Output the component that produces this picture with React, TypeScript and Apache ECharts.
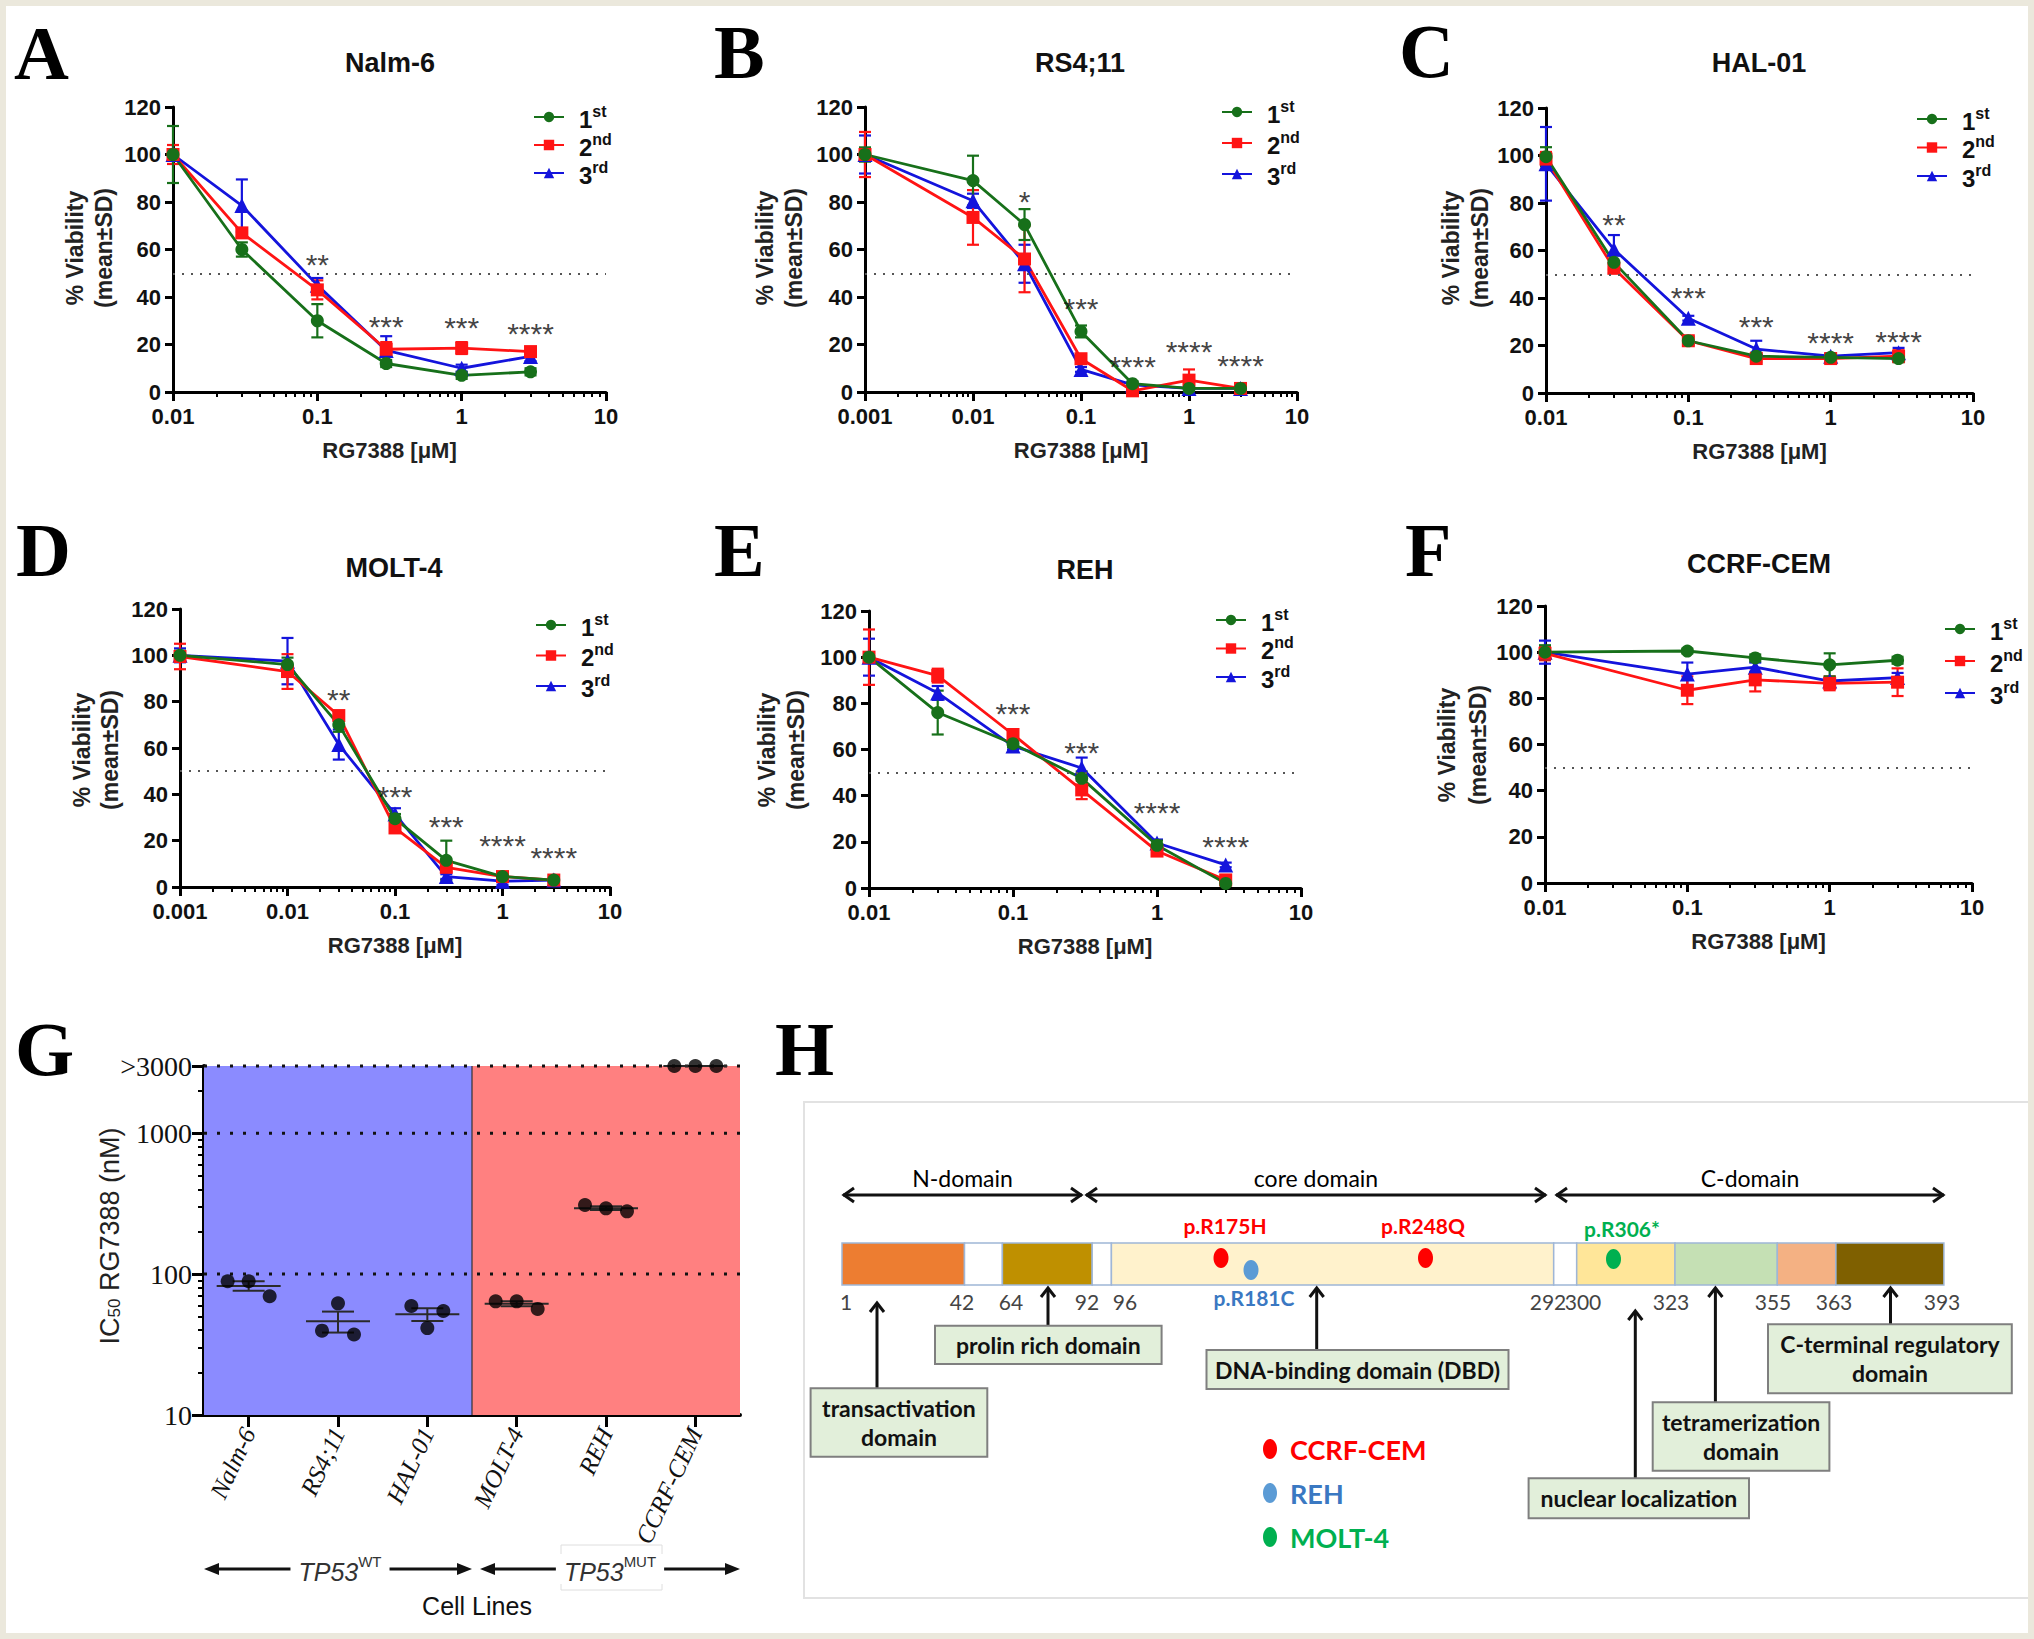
import React, { useEffect, useRef } from 'react';
import * as echarts from 'echarts';

const FONT = '"Liberation Sans", Arial, Helvetica, sans-serif';
const SERIF = '"Liberation Serif", "Times New Roman", Times, serif';
const HFONT = 'Lato, "Open Sans", "Noto Sans", sans-serif';

// ---------- Panels A–F : viability (% of control, mean ± SD) ----------
const runNames = ['1st', '2nd', '3rd'];
const runColors = ['#17701a', '#ff1414', '#1414dc'];
const runSymbols = ['circle', 'rect', 'triangle'];
const xTitle = 'RG7388 [μM]';

// A  Nalm-6
const concNalm = [0.01, 0.03, 0.1, 0.3, 1, 3];
const nalm1 = [100, 60, 30, 12, 7, 8.5];
const nalm1SD = [12, 3, 7, 1.5, 1.5, 1.5];
const nalm2 = [100, 67, 43, 18, 18.5, 17];
const nalm2SD = [4, 2, 4, 3, 2.5, 2];
const nalm3 = [100, 78.5, 45, 17.5, 10, 15];
const nalm3SD = [2, 11, 3, 6, 1.5, 2];
const nalmSig = ['', '', '**', '***', '***', '****'];
const nalmSigY = [0, 0, 57, 31, 30.5, 28];

// B  RS4;11
const concRs = [0.001, 0.01, 0.03, 0.1, 0.3, 1, 3];
const rs1 = [100, 89, 70.5, 25.5, 3.5, 1.5, 1.5];
const rs1SD = [3, 10.5, 6.5, 2.5, 1, 1, 0.5];
const rs2 = [100, 73.5, 56, 14, 0.5, 5, 1.5];
const rs2SD = [9.5, 11.5, 14, 2, 1, 4.5, 1];
const rs3 = [100, 80.5, 54, 9.5, 3, 1.5, 1.5];
const rs3SD = [8, 3, 8, 1, 1, 1, 0.5];
const rsSig = ['', '', '*', '***', '****', '****', '****'];
const rsSigY = [0, 0, 83.5, 38.5, 14, 20.5, 14.5];

// C  HAL-01
const concHal = [0.01, 0.03, 0.1, 0.3, 1, 3];
const hal1 = [99.5, 55, 22, 15.5, 15, 14.5];
const hal1SD = [4, 3, 1.5, 1.5, 1.5, 1.5];
const hal2 = [98.5, 52.5, 22, 14.5, 14.5, 15.5];
const hal2SD = [3, 2, 1.5, 1.5, 1.5, 2.5];
const hal3 = [96.5, 60.5, 31.5, 18.5, 15.5, 17];
const hal3SD = [15.5, 6, 1, 3.5, 1, 2];
const halSig = ['', '**', '***', '***', '****', '****'];
const halSigY = [0, 74.5, 43.5, 31.5, 24.5, 25];

// D  MOLT-4
const concMolt = [0.001, 0.01, 0.03, 0.1, 0.3, 1, 3];
const molt1 = [100, 96, 70, 29.5, 11.5, 4.5, 3];
const molt1SD = [2, 3, 3, 2, 8.5, 1, 0.5];
const molt2 = [99.5, 93, 74, 25.5, 8.5, 4.5, 3];
const molt2SD = [5.5, 7.5, 2, 2, 2, 1, 1];
const molt3 = [100, 97.5, 61.5, 31.5, 4.5, 2.5, 3];
const molt3SD = [3, 10, 6.5, 2.5, 1, 1.5, 0.5];
const moltSig = ['', '', '**', '***', '***', '****', '****'];
const moltSigY = [0, 0, 84.5, 42.5, 29.5, 21.5, 16];

// E  REH
const concReh = [0.01, 0.03, 0.1, 0.3, 1, 3];
const reh1 = [100, 76, 62.5, 47.5, 18.5, 2];
const reh1SD = [2, 9.5, 1.5, 3, 2, 1];
const reh2 = [100, 92, 66.5, 42.5, 16, 3.5];
const reh2SD = [12, 3, 2, 4, 1.5, 1];
const reh3 = [100, 84.5, 61.5, 52, 19.5, 10];
const reh3SD = [8, 3, 1.5, 4.5, 1.5, 1];
const rehSig = ['', '', '***', '***', '****', '****'];
const rehSigY = [0, 0, 79, 62, 36, 21.5];

// F  CCRF-CEM
const concCem = [0.01, 0.1, 0.3, 1, 3];
const cem1 = [100, 100.5, 97.5, 94.5, 96.5];
const cem1SD = [3, 1, 1.5, 5, 1.5];
const cem2 = [99.5, 83.5, 88, 86.5, 87];
const cem2SD = [3, 6, 5, 3, 6];
const cem3 = [100, 90.5, 93.5, 87.5, 89];
const cem3SD = [5, 5, 2, 1.5, 2];
const cemSig = ['', '', '', '', ''];
const cemSigY = [0, 0, 0, 0, 0];

// ---------- Panel G : IC50 (nM) ----------
const gCats = ['Nalm-6', 'RS4;11', 'HAL-01', 'MOLT-4', 'REH', 'CCRF-CEM'];
const gIC50 = [
  [88.9, 88.9, 69.7],
  [39.7, 62, 37.3],
  [59.4, 41.4, 54.7],
  [64.1, 64.1, 56.6],
  [309.7, 293, 279],
  [3000, 3000, 3000],
];
const gMajor = [10, 100, 1000, 3000];
const gGuides = [100, 1000, 3000];
const gGroups = [
  { label: 'TP53', sup: 'WT', from: 0, to: 2, color: '#8b8bff' },
  { label: 'TP53', sup: 'MUT', from: 3, to: 5, color: '#ff8080' },
];

// ---------- Panel H : TP53 protein scheme ----------
const hDomains = ['N-domain', 'core domain', 'C-domain'];
const hResidues = ['1', '42', '64', '92', '96', '292', '300', '323', '355', '363', '393'];
const hSegColors = ['#ed7d31', '#ffffff', '#bf9000', '#ffffff', '#fff2cc', '#ffffff', '#ffe699', '#c5e0b4', '#f4b183', '#7f6000'];
const hMutLabels = ['p.R175H', 'p.R181C', 'p.R248Q', 'p.R306*'];
const hMutLines = ['CCRF-CEM', 'REH', 'CCRF-CEM', 'MOLT-4'];
const hCellLines = ['CCRF-CEM', 'REH', 'MOLT-4'];
const hCellDot = ['#ff0000', '#5b9bd5', '#00b050'];
const hCellText = ['#ff0000', '#3a78c2', '#00b050'];
const hFeatures = ['transactivation\ndomain', 'prolin rich domain', 'DNA-binding domain (DBD)', 'nuclear localization', 'tetramerization\ndomain', 'C-terminal regulatory\ndomain'];

// ---------- layout ----------
const panels = [
  { title: 'Nalm-6', letter: 'A', conc: concNalm, runs: [[nalm1, nalm1SD], [nalm2, nalm2SD], [nalm3, nalm3SD]], sig: nalmSig, sigY: nalmSigY,
    minExp: -2, grid: [173, 107, 433, 285], letterXY: [14, 53], titleXY: [390, 63], legendXY: [528, 98], legendGap: 0, ylab: [75, 104, 248] },
  { title: 'RS4;11', letter: 'B', conc: concRs, runs: [[rs1, rs1SD], [rs2, rs2SD], [rs3, rs3SD]], sig: rsSig, sigY: rsSigY,
    minExp: -3, grid: [865, 107, 432, 285], letterXY: [714, 52], titleXY: [1080, 63], legendXY: [1216, 93], legendGap: 3, ylab: [765, 794, 248] },
  { title: 'HAL-01', letter: 'C', conc: concHal, runs: [[hal1, hal1SD], [hal2, hal2SD], [hal3, hal3SD]], sig: halSig, sigY: halSigY,
    minExp: -2, grid: [1546, 108, 427, 285], letterXY: [1399, 51], titleXY: [1759, 63], legendXY: [1911, 100], legendGap: 0.5, ylab: [1451, 1480, 248] },
  { title: 'MOLT-4', letter: 'D', conc: concMolt, runs: [[molt1, molt1SD], [molt2, molt2SD], [molt3, molt3SD]], sig: moltSig, sigY: moltSigY,
    minExp: -3, grid: [180, 609, 430, 278], letterXY: [16, 550], titleXY: [394, 568], legendXY: [530, 606], legendGap: 2.5, ylab: [82, 110, 750] },
  { title: 'REH', letter: 'E', conc: concReh, runs: [[reh1, reh1SD], [reh2, reh2SD], [reh3, reh3SD]], sig: rehSig, sigY: rehSigY,
    minExp: -2, grid: [869, 611, 432, 277], letterXY: [714, 550], titleXY: [1085, 570], legendXY: [1210, 601], legendGap: 0.5, ylab: [767, 796, 750] },
  { title: 'CCRF-CEM', letter: 'F', conc: concCem, runs: [[cem1, cem1SD], [cem2, cem2SD], [cem3, cem3SD]], sig: cemSig, sigY: cemSigY,
    minExp: -2, grid: [1545, 606, 427, 277], letterXY: [1405, 550], titleXY: [1759, 564], legendXY: [1939, 610], legendGap: 4, ylab: [1447, 1478, 745] },
];

const G_GRID = [204, 1066, 536, 349];
const G_JITTER = [[-21, 0, 21], [-16, 0, 16], [-16, 0, 16], [-21, 0, 21], [-21, 0, 21], [-21, 0, 21]];
const G_ARROWS = [[204, 472], [480, 740]];
const G_ARROW_Y = 1569;
const G_GROUP_LABEL_X = [340, 610];

const H_BAR_Y = 1243;
const H_BAR_H = 42;
const H_SEG_X = [842, 964.5, 1002.4, 1092.2, 1111.4, 1553.7, 1576.7, 1675, 1777.3, 1835.9, 1943.9];
const H_RES_X = [846, 962, 1011, 1087, 1125, 1548, 1583, 1671, 1773, 1834, 1942];
const H_DOM_X = [[843, 1082], [1086, 1546], [1556, 1944]];
const H_MUT = [
  { ex: 1221, ey: 1258, lx: 1225, ly: 1225 },
  { ex: 1251, ey: 1270, lx: 1254, ly: 1297 },
  { ex: 1425.5, ey: 1258, lx: 1423, ly: 1225 },
  { ex: 1613.5, ey: 1259, lx: 1622, ly: 1228 },
];
const H_BOX = [
  [810.6, 1388.3, 176.7, 68.4, 877, 1302],
  [935, 1325.7, 226.6, 38.3, 1048, 1287],
  [1206.5, 1350, 302, 39, 1316.7, 1287],
  [1528.6, 1478.3, 220.4, 40, 1635.3, 1310],
  [1652.7, 1402.3, 176.7, 68.4, 1715.4, 1287],
  [1768, 1324.3, 243.8, 69, 1890.5, 1287],
];

// ---------- helpers ----------
const fmtConc = (v: number) => String(Number(v.toPrecision(3)));
const minorTicks = (minExp: number, maxExp: number, cap = Infinity) => {
  const out: number[] = [];
  for (let e = minExp; e < maxExp; e++) for (let k = 2; k <= 9; k++) {
    const v = Math.log10(k) + e;
    if (v <= cap + 1e-9) out.push(v);
  }
  return out;
};

const txt = (text: string, x: number, y: number, o: any = {}) => ({
  type: 'text', x, y, rotation: o.rotation || 0, z: o.z || 50,
  style: {
    text, fill: o.color || '#111', fontSize: o.size || 20, fontWeight: o.weight || 'normal',
    fontFamily: o.family || FONT, fontStyle: o.fstyle || 'normal',
    textAlign: o.align || 'center', align: o.align || 'center',
    textVerticalAlign: 'middle', verticalAlign: 'middle',
    lineHeight: o.lineHeight, rich: o.rich, backgroundColor: o.bg, padding: o.padding,
  },
});
const ln = (x1: number, y1: number, x2: number, y2: number, stroke = '#111', lineWidth = 3) => ({
  type: 'line', z: 40, shape: { x1, y1, x2, y2 }, style: { stroke, lineWidth },
});
const chevron = (pts: number[][]) => ({ type: 'polyline', z: 40, shape: { points: pts }, style: { stroke: '#111', lineWidth: 3, fill: 'none' } });

const errorBar = (color: string) => (params: any, api: any) => {
  const x = api.value(0);
  const top = api.coord([x, api.value(2)]);
  const bot = api.coord([x, api.value(1)]);
  const st = { stroke: color, lineWidth: 2.2 };
  return {
    type: 'group', children: [
      { type: 'line', shape: { x1: top[0], y1: top[1], x2: bot[0], y2: bot[1] }, style: st },
      { type: 'line', shape: { x1: top[0] - 6, y1: top[1], x2: top[0] + 6, y2: top[1] }, style: st },
      { type: 'line', shape: { x1: bot[0] - 6, y1: bot[1], x2: bot[0] + 6, y2: bot[1] }, style: st },
    ],
  };
};

function buildOption(): any {
  const grid: any[] = [];
  const xAxis: any[] = [];
  const yAxis: any[] = [];
  const series: any[] = [];
  const legend: any[] = [];
  const graphic: any[] = [];
  const tickLabel = { fontFamily: FONT, fontSize: 22, fontWeight: 'bold', color: '#111' };

  panels.forEach((p, gi) => {
    grid.push({ left: p.grid[0], top: p.grid[1], width: p.grid[2], height: p.grid[3] });
    const xi = xAxis.length;
    xAxis.push({
      type: 'value', gridIndex: gi, min: p.minExp, max: 1, interval: 1, position: 'bottom',
      axisLine: { show: true, onZero: false, lineStyle: { color: '#000', width: 3 } },
      axisTick: { show: true, length: 9, lineStyle: { color: '#000', width: 3 } },
      axisLabel: { ...tickLabel, margin: 13, formatter: (v: number) => fmtConc(Math.pow(10, v)) },
      splitLine: { show: false },
      name: xTitle, nameLocation: 'middle', nameGap: 47,
      nameTextStyle: { fontFamily: FONT, fontSize: 22, fontWeight: 'bold', color: '#222' },
    });
    xAxis.push({
      type: 'value', gridIndex: gi, min: p.minExp, max: 1, position: 'bottom',
      axisLine: { show: false }, axisLabel: { show: false }, splitLine: { show: false },
      axisTick: { show: true, length: 5, customValues: minorTicks(p.minExp, 1), lineStyle: { color: '#000', width: 2 } },
    });
    yAxis.push({
      type: 'value', gridIndex: gi, min: 0, max: 120, interval: 20, position: 'left',
      axisLine: { show: true, onZero: false, lineStyle: { color: '#000', width: 3 } },
      axisTick: { show: true, length: 8, lineStyle: { color: '#000', width: 3 } },
      axisLabel: { ...tickLabel, margin: 12 },
      splitLine: { show: false },
    });
    const order = [2, 1, 0];
    order.forEach((ri) => {
      const [vals, sds] = p.runs[ri];
      series.push({
        type: 'custom', name: `${p.title} ${runNames[ri]} SD`, xAxisIndex: xi, yAxisIndex: gi, z: 2, silent: true,
        renderItem: errorBar(runColors[ri]), encode: { x: 0, y: [1, 2] },
        data: p.conc.map((c, j) => [Math.log10(c), vals[j] - sds[j], vals[j] + sds[j]]),
      });
    });
    order.forEach((ri) => {
      const [vals] = p.runs[ri];
      const s: any = {
        type: 'line', name: runNames[ri], xAxisIndex: xi, yAxisIndex: gi, z: 3, silent: true,
        symbol: runSymbols[ri], symbolSize: ri === 2 ? 15 : 13, showSymbol: true,
        lineStyle: { color: runColors[ri], width: 2.8 }, itemStyle: { color: runColors[ri] },
        data: p.conc.map((c, j) => [Math.log10(c), vals[j]]),
      };
      if (ri === 2) {
        s.markLine = {
          silent: true, symbol: ['none', 'none'], label: { show: false },
          lineStyle: { type: [2, 7], color: '#555', width: 2 },
          data: [{ yAxis: 50 }],
        };
      }
      series.push(s);
    });
    const sigData = p.conc.map((c, j) => ({ name: p.sig[j], value: [Math.log10(c), p.sigY[j]] })).filter((d) => d.name);
    if (sigData.length) {
      series.push({
        type: 'scatter', xAxisIndex: xi, yAxisIndex: gi, z: 4, silent: true, symbol: 'circle', symbolSize: 1,
        itemStyle: { color: 'rgba(0,0,0,0)' },
        label: { show: true, position: 'inside', formatter: '{b}', fontFamily: FONT, fontSize: 30, color: '#111', offset: [0, 8] },
        data: sigData,
      });
    }
    legend.push({
      left: p.legendXY[0], top: p.legendXY[1], orient: 'vertical', data: runNames, selectedMode: false,
      itemWidth: 30, itemHeight: 13, itemGap: p.legendGap,
      formatter: (n: string) => `{n|${n.charAt(0)}}{s|${n.slice(1)}}`,
      textStyle: {
        padding: [0, 0, 0, 10],
        rich: {
          n: { fontFamily: FONT, fontSize: 24, fontWeight: 'bold', color: '#111', lineHeight: 28, verticalAlign: 'bottom' },
          s: { fontFamily: FONT, fontSize: 16, fontWeight: 'bold', color: '#111', lineHeight: 16, verticalAlign: 'top' },
        },
      },
    });
    graphic.push(txt(p.letter, p.letterXY[0], p.letterXY[1], { size: 76, weight: 'bold', family: SERIF, align: 'left', color: '#000' }));
    graphic.push(txt(p.title, p.titleXY[0], p.titleXY[1], { size: 27, weight: 'bold', color: '#111' }));
    graphic.push(txt('% Viability', p.ylab[0], p.ylab[2], { size: 23, weight: 'bold', rotation: Math.PI / 2, color: '#222' }));
    graphic.push(txt('(mean±SD)', p.ylab[1], p.ylab[2], { size: 23, weight: 'bold', rotation: Math.PI / 2, color: '#222' }));
  });

  // ---------- Panel G ----------
  const gGrid = grid.length;
  grid.push({ left: G_GRID[0], top: G_GRID[1], width: G_GRID[2], height: G_GRID[3] });
  const gTopLog = Math.log10(gMajor[gMajor.length - 1]);
  const gx = xAxis.length;
  const catIdx = gCats.map((_, i) => i);
  xAxis.push({
    type: 'value', gridIndex: gGrid, min: -0.5, max: gCats.length - 0.5, position: 'bottom',
    axisLine: { show: true, onZero: false, lineStyle: { color: '#000', width: 4 } },
    axisTick: { show: true, customValues: catIdx, length: 12, lineStyle: { color: '#000', width: 3 } },
    axisLabel: {
      customValues: catIdx, formatter: (v: number) => gCats[Math.round(v)] ?? '', rotate: 65, margin: 14,
      fontFamily: SERIF, fontStyle: 'italic', fontSize: 25, color: '#111',
    },
    splitLine: { show: false },
  });
  const gy = yAxis.length;
  const majorLog = gMajor.map((v) => Math.log10(v));
  yAxis.push({
    type: 'value', gridIndex: gGrid, min: 1, max: gTopLog, position: 'left',
    axisLine: { show: true, onZero: false, lineStyle: { color: '#000', width: 4 } },
    axisTick: { show: true, customValues: majorLog, length: 12, lineStyle: { color: '#000', width: 3 } },
    axisLabel: {
      customValues: majorLog, margin: 12, fontFamily: SERIF, fontSize: 28, color: '#111',
      formatter: (v: number) => (v > gTopLog - 1e-6 ? '>' + gMajor[gMajor.length - 1] : String(Math.round(Math.pow(10, v)))),
    },
    splitLine: { show: false },
  });
  yAxis.push({
    type: 'value', gridIndex: gGrid, min: 1, max: gTopLog, position: 'left', offset: 0,
    axisLine: { show: false, onZero: false }, axisLabel: { show: false }, splitLine: { show: false },
    axisTick: { show: true, customValues: minorTicks(1, 4, gTopLog), length: 6, lineStyle: { color: '#000', width: 2 } },
  });
  series.push({
    type: 'custom', xAxisIndex: gx, yAxisIndex: gy, z: 1, silent: true,
    encode: { x: [0, 1], y: 2 },
    data: gGroups.map((g) => [g.from - 0.5, g.to + 0.5, 2]),
    renderItem: (params: any, api: any) => {
      const cs = params.coordSys;
      const x0 = api.coord([api.value(0), 2])[0];
      const x1 = api.coord([api.value(1), 2])[0];
      const g = gGroups[params.dataIndex];
      const children: any[] = [{ type: 'rect', shape: { x: x0, y: cs.y, width: x1 - x0, height: cs.height }, style: { fill: g.color } }];
      if (params.dataIndex > 0) children.push({ type: 'line', shape: { x1: x0, y1: cs.y, x2: x0, y2: cs.y + cs.height }, style: { stroke: '#333', lineWidth: 1.2 } });
      return { type: 'group', children };
    },
  });
  series.push({
    type: 'custom', xAxisIndex: gx, yAxisIndex: gy, z: 2, silent: true, clip: false,
    encode: { y: 0 },
    data: gGuides.map((v) => [Math.log10(v)]),
    renderItem: (params: any, api: any) => {
      const cs = params.coordSys;
      const y = api.coord([0, api.value(0)])[1];
      return { type: 'line', shape: { x1: cs.x, y1: y, x2: cs.x + cs.width, y2: y }, style: { stroke: '#111', lineWidth: 3, lineDash: [3, 10] } };
    },
  });
  const gStats = gIC50.map((vals, i) => {
    const m = vals.reduce((a, b) => a + b, 0) / vals.length;
    const sd = Math.sqrt(vals.reduce((a, b) => a + (b - m) * (b - m), 0) / (vals.length - 1));
    const se = sd / Math.sqrt(vals.length);
    return [i, Math.log10(m), Math.log10(m - se), Math.log10(m + se)];
  });
  series.push({
    type: 'custom', xAxisIndex: gx, yAxisIndex: gy, z: 3, silent: true, clip: false,
    encode: { x: 0, y: [1, 2, 3] },
    data: gStats,
    renderItem: (params: any, api: any) => {
      const x = api.value(0);
      const pm = api.coord([x, api.value(1)]);
      const pl = api.coord([x, api.value(2)]);
      const ph = api.coord([x, api.value(3)]);
      const st = { stroke: '#2a2a2a', lineWidth: 2 };
      return {
        type: 'group', children: [
          { type: 'line', shape: { x1: pm[0] - 32, y1: pm[1], x2: pm[0] + 32, y2: pm[1] }, style: st },
          { type: 'line', shape: { x1: pl[0], y1: pl[1], x2: ph[0], y2: ph[1] }, style: st },
          { type: 'line', shape: { x1: pl[0] - 16, y1: pl[1], x2: pl[0] + 16, y2: pl[1] }, style: st },
          { type: 'line', shape: { x1: ph[0] - 16, y1: ph[1], x2: ph[0] + 16, y2: ph[1] }, style: st },
        ],
      };
    },
  });
  const gPoints: any[] = [];
  gIC50.forEach((vals, i) => vals.forEach((v, k) => gPoints.push({ value: [i, Math.log10(v)], symbolOffset: [G_JITTER[i][k], 0] })));
  series.push({
    type: 'scatter', xAxisIndex: gx, yAxisIndex: gy, z: 4, silent: true, clip: false,
    symbol: 'circle', symbolSize: 14, itemStyle: { color: '#000' },
    data: gPoints,
  });
  graphic.push(txt('G', 15, 1049, { size: 76, weight: 'bold', family: SERIF, align: 'left', color: '#000' }));
  graphic.push(txt('{a|IC}{b|50}{a| RG7388 (nM)}', 107, 1236, {
    rotation: Math.PI / 2,
    rich: {
      a: { fontFamily: FONT, fontSize: 27, color: '#222', fill: '#222', lineHeight: 32, verticalAlign: 'bottom' },
      b: { fontFamily: FONT, fontSize: 17, color: '#222', fill: '#222', lineHeight: 17, verticalAlign: 'bottom' },
    },
  }));
  G_ARROWS.forEach(([x1, x2]) => {
    graphic.push(ln(x1 + 10, G_ARROW_Y, x2 - 10, G_ARROW_Y, '#111', 3));
    graphic.push({ type: 'polygon', z: 41, shape: { points: [[x1, G_ARROW_Y], [x1 + 15, G_ARROW_Y - 6], [x1 + 15, G_ARROW_Y + 6]] }, style: { fill: '#111' } });
    graphic.push({ type: 'polygon', z: 41, shape: { points: [[x2, G_ARROW_Y], [x2 - 15, G_ARROW_Y - 6], [x2 - 15, G_ARROW_Y + 6]] }, style: { fill: '#111' } });
  });
  graphic.push({ type: 'rect', z: 45, shape: { x: 561, y: 1545, width: 101, height: 45 }, style: { fill: '#fff', stroke: '#dedede', lineWidth: 1 } });
  gGroups.forEach((g, i) => {
    graphic.push(txt(`{i|${g.label}}{s|${g.sup}}`, G_GROUP_LABEL_X[i], G_ARROW_Y, {
      z: 48, bg: '#fff', padding: [0, 8, 0, 8],
      rich: {
        i: { fontFamily: FONT, fontStyle: 'italic', fontSize: 25, color: '#333', fill: '#333', lineHeight: 30, verticalAlign: 'bottom' },
        s: { fontFamily: FONT, fontSize: 15, color: '#333', fill: '#333', lineHeight: 15, verticalAlign: 'top' },
      },
    }));
  });
  graphic.push(txt('Cell Lines', 477, 1606, { size: 25, color: '#111' }));

  // ---------- Panel H ----------
  graphic.push({ type: 'rect', z: 5, shape: { x: 804, y: 1102, width: 1225, height: 496 }, style: { fill: '#fff', stroke: '#e2e2e2', lineWidth: 2 } });
  graphic.push(txt('H', 775, 1049, { size: 76, weight: 'bold', family: SERIF, align: 'left', color: '#000' }));
  hDomains.forEach((d, i) => {
    const [x1, x2] = H_DOM_X[i];
    graphic.push(ln(x1, 1195, x2, 1195));
    graphic.push(chevron([[x1 + 11, 1188], [x1 + 1, 1195], [x1 + 11, 1202]]));
    graphic.push(chevron([[x2 - 11, 1188], [x2 - 1, 1195], [x2 - 11, 1202]]));
    graphic.push(txt(d, (x1 + x2) / 2, 1178, { size: 23, family: HFONT, color: '#000' }));
  });
  hSegColors.forEach((c, i) => {
    graphic.push({ type: 'rect', z: 20, shape: { x: H_SEG_X[i], y: H_BAR_Y, width: H_SEG_X[i + 1] - H_SEG_X[i], height: H_BAR_H }, style: { fill: c, stroke: '#9fb6d6', lineWidth: 1.5 } });
  });
  hResidues.forEach((r, i) => graphic.push(txt(r, H_RES_X[i], 1301, { size: 21, family: HFONT, color: '#444' })));
  hMutLabels.forEach((m, i) => {
    const ci = hCellLines.indexOf(hMutLines[i]);
    const pos = H_MUT[i];
    graphic.push({ type: 'ellipse', z: 30, shape: { cx: pos.ex, cy: pos.ey, rx: 7.5, ry: 10 }, style: { fill: hCellDot[ci] } });
    graphic.push(txt(m, pos.lx, pos.ly, { size: 21, weight: 'bold', family: HFONT, color: ci === 1 ? hCellText[1] : hCellDot[ci] }));
  });
  hFeatures.forEach((f, i) => {
    const [x, y, w, h, ax, ay] = H_BOX[i];
    graphic.push(ln(ax, y, ax, ay + 2, '#111', 3));
    graphic.push(chevron([[ax - 7, ay + 10], [ax, ay + 1], [ax + 7, ay + 10]]));
    graphic.push({ type: 'rect', z: 42, shape: { x, y, width: w, height: h }, style: { fill: '#e2efda', stroke: '#7f7f7f', lineWidth: 2 } });
    graphic.push(txt(f, x + w / 2, y + h / 2, { size: 23, weight: 'bold', family: HFONT, color: '#111', lineHeight: 29, z: 44 }));
  });
  hCellLines.forEach((c, i) => {
    const y = 1449 + i * 44;
    graphic.push({ type: 'ellipse', z: 30, shape: { cx: 1270, cy: y, rx: 7, ry: 10 }, style: { fill: hCellDot[i] } });
    graphic.push(txt(c, 1290, y, { size: 27, weight: 'bold', family: HFONT, color: hCellText[i], align: 'left' }));
  });

  graphic.push({ type: 'rect', z: 100, shape: { x: 3, y: 3, width: 2028, height: 1633 }, style: { fill: 'none', stroke: '#ebe8dc', lineWidth: 6 } });

  return { animation: false, backgroundColor: '#ffffff', grid, xAxis, yAxis, series, legend, graphic };
}

export default function App() {
  const ref = useRef<HTMLDivElement>(null);
  useEffect(() => {
    if (!ref.current) return;
    const chart = echarts.init(ref.current, null, { renderer: 'svg' });
    chart.setOption(buildOption());
    return () => chart.dispose();
  }, []);
  return <div ref={ref} style={{ position: 'absolute', left: 0, top: 0, width: 2034, height: 1639, background: '#fff' }} />;
}
